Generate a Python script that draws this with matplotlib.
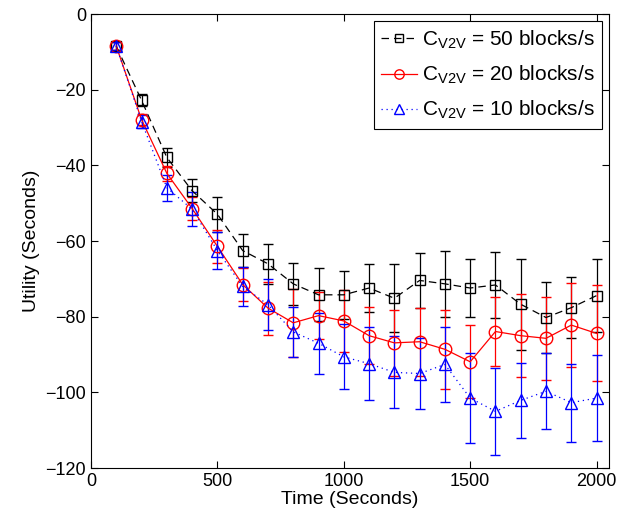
import numpy as np
import matplotlib.pyplot as plt
from matplotlib.lines import Line2D

plt.rcParams['font.family'] = ['Liberation Sans', 'DejaVu Sans']
plt.rcParams['mathtext.fontset'] = 'custom'
plt.rcParams['mathtext.rm'] = 'Liberation Sans'
plt.rcParams['mathtext.it'] = 'Liberation Sans'

time = np.arange(100, 2001, 100)

u50 = [-8.5, -22.8, -37.9, -46.7, -52.9, -62.5, -66.0, -71.3, -74.2, -74.2,
       -72.4, -75.1, -70.4, -71.3, -72.4, -71.6, -76.7, -80.2, -77.6, -74.4]
e50 = [1.0, 1.6, 2.5, 3.0, 4.6, 4.4, 5.3, 5.5, 7.0, 6.4,
       6.4, 9.0, 7.3, 8.8, 7.7, 8.7, 12.0, 9.3, 8.0, 9.6]

u20 = [-8.5, -27.9, -42.1, -51.4, -61.4, -71.5, -77.7, -81.6, -79.7, -81.1,
       -85.0, -86.9, -86.6, -88.6, -91.9, -83.9, -85.0, -85.7, -82.2, -84.4]
e20 = [1.0, 1.5, 2.0, 3.0, 4.4, 4.3, 7.0, 9.0, 6.3, 8.2,
       7.5, 8.7, 9.0, 10.4, 9.6, 9.0, 11.0, 11.0, 11.0, 12.7]

u10 = [-8.5, -28.4, -45.9, -51.6, -62.5, -72.0, -76.8, -84.0, -87.0, -90.6,
       -92.4, -94.7, -95.0, -92.6, -101.5, -105.0, -102.1, -99.7, -102.7, -101.5]
e10 = [1.0, 1.8, 3.4, 4.5, 5.0, 5.2, 6.8, 6.7, 8.0, 8.6,
       9.7, 9.5, 9.3, 10.0, 12.0, 11.5, 10.0, 10.0, 10.3, 11.3]

labels = [r'C$_{\mathrm{V2V}}$ = 50 blocks/s',
          r'C$_{\mathrm{V2V}}$ = 20 blocks/s',
          r'C$_{\mathrm{V2V}}$ = 10 blocks/s']

styles = [
    dict(color='black', linestyle=(0, (6, 4)), marker='s', markersize=7),
    dict(color='red', linestyle='-', marker='o', markersize=9),
    dict(color='blue', linestyle=(0, (1, 3)), marker='^', markersize=9),
]

fig = plt.figure(figsize=(6.21, 5.23), dpi=100)
ax = fig.add_axes([0.1466, 0.105, 0.8344, 0.868])

handles = []
for u, e, st, lab in zip([u50, u20, u10], [e50, e20, e10], styles, labels):
    ax.errorbar(time, u, yerr=e, markerfacecolor='none', linewidth=0.9,
                capsize=3.5, elinewidth=0.9, **st)
    hs = dict(st)
    hs['markersize'] = st['markersize'] * 0.75
    handles.append(Line2D([], [], markerfacecolor='none', linewidth=0.9, **hs))

ax.set_xlim(0, 2050)
ax.set_ylim(-120, 0)
ax.set_xticks([0, 500, 1000, 1500, 2000])
ax.set_yticks(np.arange(-120, 1, 20))
ax.tick_params(direction='in', top=True, right=True, labelsize=13, length=5)
ax.set_xlabel('Time (Seconds)', fontsize=14, labelpad=1)
ax.set_ylabel('Utility (Seconds)', fontsize=14)

leg = ax.legend(handles, labels, loc='upper right', fontsize=15, fancybox=False,
                edgecolor='black', framealpha=1, borderaxespad=0.35, handlelength=1.7,
                labelspacing=0.62, handletextpad=0.25, borderpad=0.35)
leg.get_frame().set_linewidth(0.8)

fig.savefig('out.png', dpi=100)
